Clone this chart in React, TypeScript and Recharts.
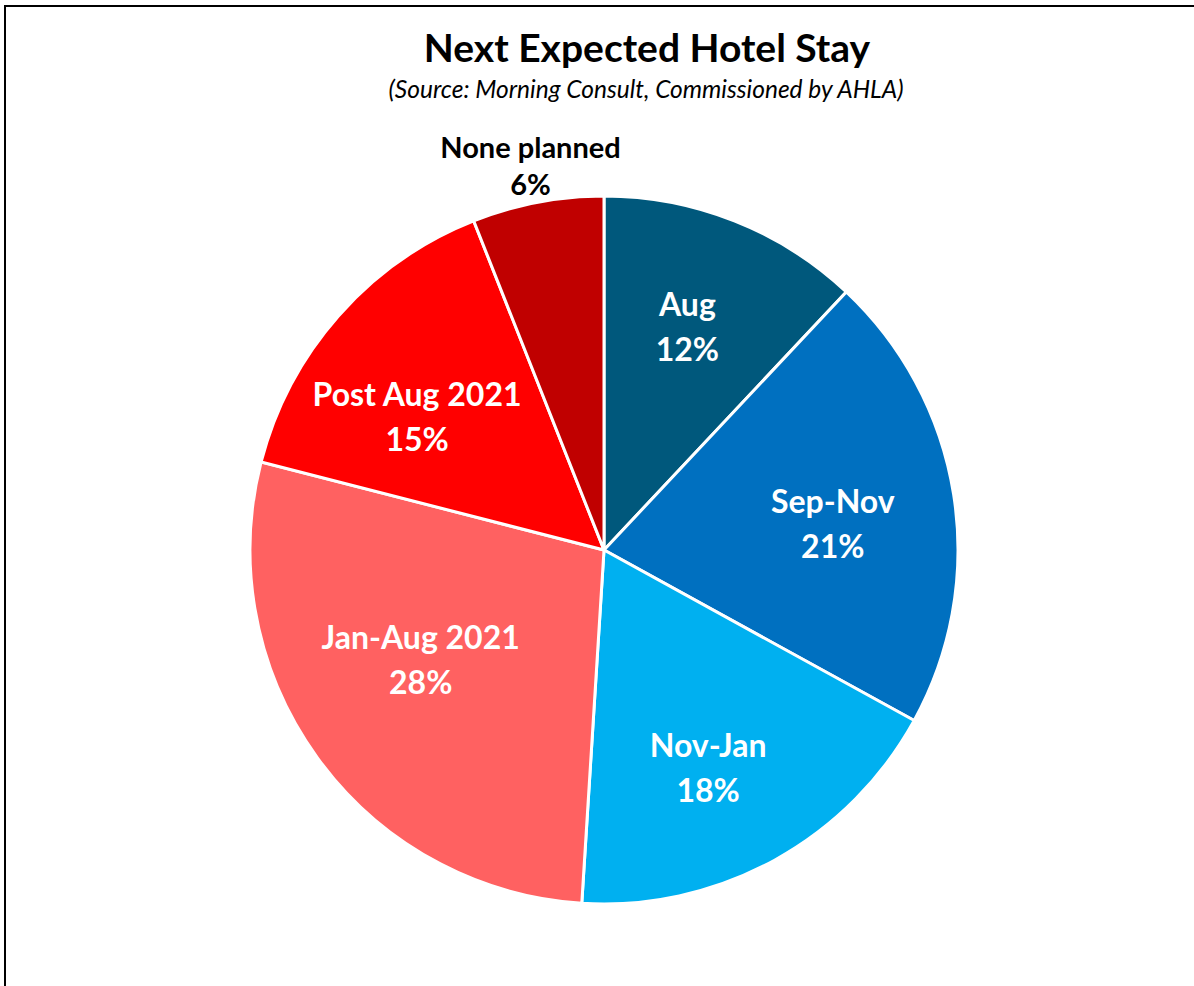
import { PieChart, Pie, Cell } from 'recharts'

const categories = ['Aug', 'Sep-Nov', 'Nov-Jan', 'Jan-Aug 2021', 'Post Aug 2021', 'None planned']
const shares = [12, 21, 18, 28, 15, 6]
const colors = ['#00587C', '#0070C0', '#00B0F0', '#FF6161', '#FF0000', '#C00000']

const data = categories.map((name, i) => ({ name, value: shares[i] }))

const RADIAN = Math.PI / 180
const FONT = 'Lato, "Open Sans", sans-serif'

// small best-fit nudges for the inside labels, like Excel does
const labelNudge: [number, number][] = [
  [0, -14],
  [5, 8],
  [-5, 18],
  [0, -25],
  [-17, 15],
  [0, 0],
]

function renderLabel(props: any) {
  const { cx, cy, midAngle, outerRadius, index } = props
  const outside = index === categories.length - 1
  const r = outside ? outerRadius + 38 : outerRadius * 0.64
  const [dx, dy] = labelNudge[index]
  const x = cx + r * Math.cos(-midAngle * RADIAN) + dx
  const y = cy + r * Math.sin(-midAngle * RADIAN) + dy
  const size = outside ? 29 : 32
  const gap = outside ? 37 : 45
  return (
    <text
      x={x}
      y={y}
      textAnchor="middle"
      dominantBaseline="central"
      fill={outside ? '#000' : '#fff'}
      fontFamily={FONT}
      fontWeight={700}
      fontSize={size}
    >
      <tspan x={x} dy={-gap / 2}>{categories[index]}</tspan>
      <tspan x={x} dy={gap}>{shares[index]}%</tspan>
    </text>
  )
}

export default function App() {
  return (
    <div style={{ position: 'fixed', left: 0, top: 0, width: 1194, height: 986, background: '#fff' }}>
      <div
        style={{
          position: 'absolute',
          left: 4,
          top: 5,
          right: -10,
          bottom: -10,
          borderTop: '2px solid #000',
          borderLeft: '2px solid #000',
        }}
      />
      <PieChart width={1194} height={986} style={{ position: 'absolute', left: 0, top: 0 }}>
        <text x={647} y={47} textAnchor="middle" dominantBaseline="central" fontFamily={FONT} fontWeight={700} fontSize={39} fill="#000">
          Next Expected Hotel Stay
        </text>
        <text x={646} y={88} textAnchor="middle" dominantBaseline="central" fontFamily={FONT} fontStyle="italic" fontSize={24.5} fill="#000">
          (Source: Morning Consult, Commissioned by AHLA)
        </text>
        <Pie
          data={data}
          dataKey="value"
          nameKey="name"
          cx={599}
          cy={545}
          outerRadius={354}
          startAngle={90}
          endAngle={-270}
          stroke="#fff"
          strokeWidth={3}
          label={renderLabel}
          labelLine={false}
          isAnimationActive={false}
        >
          {data.map((d, i) => (
            <Cell key={d.name} fill={colors[i]} />
          ))}
        </Pie>
      </PieChart>
    </div>
  )
}
